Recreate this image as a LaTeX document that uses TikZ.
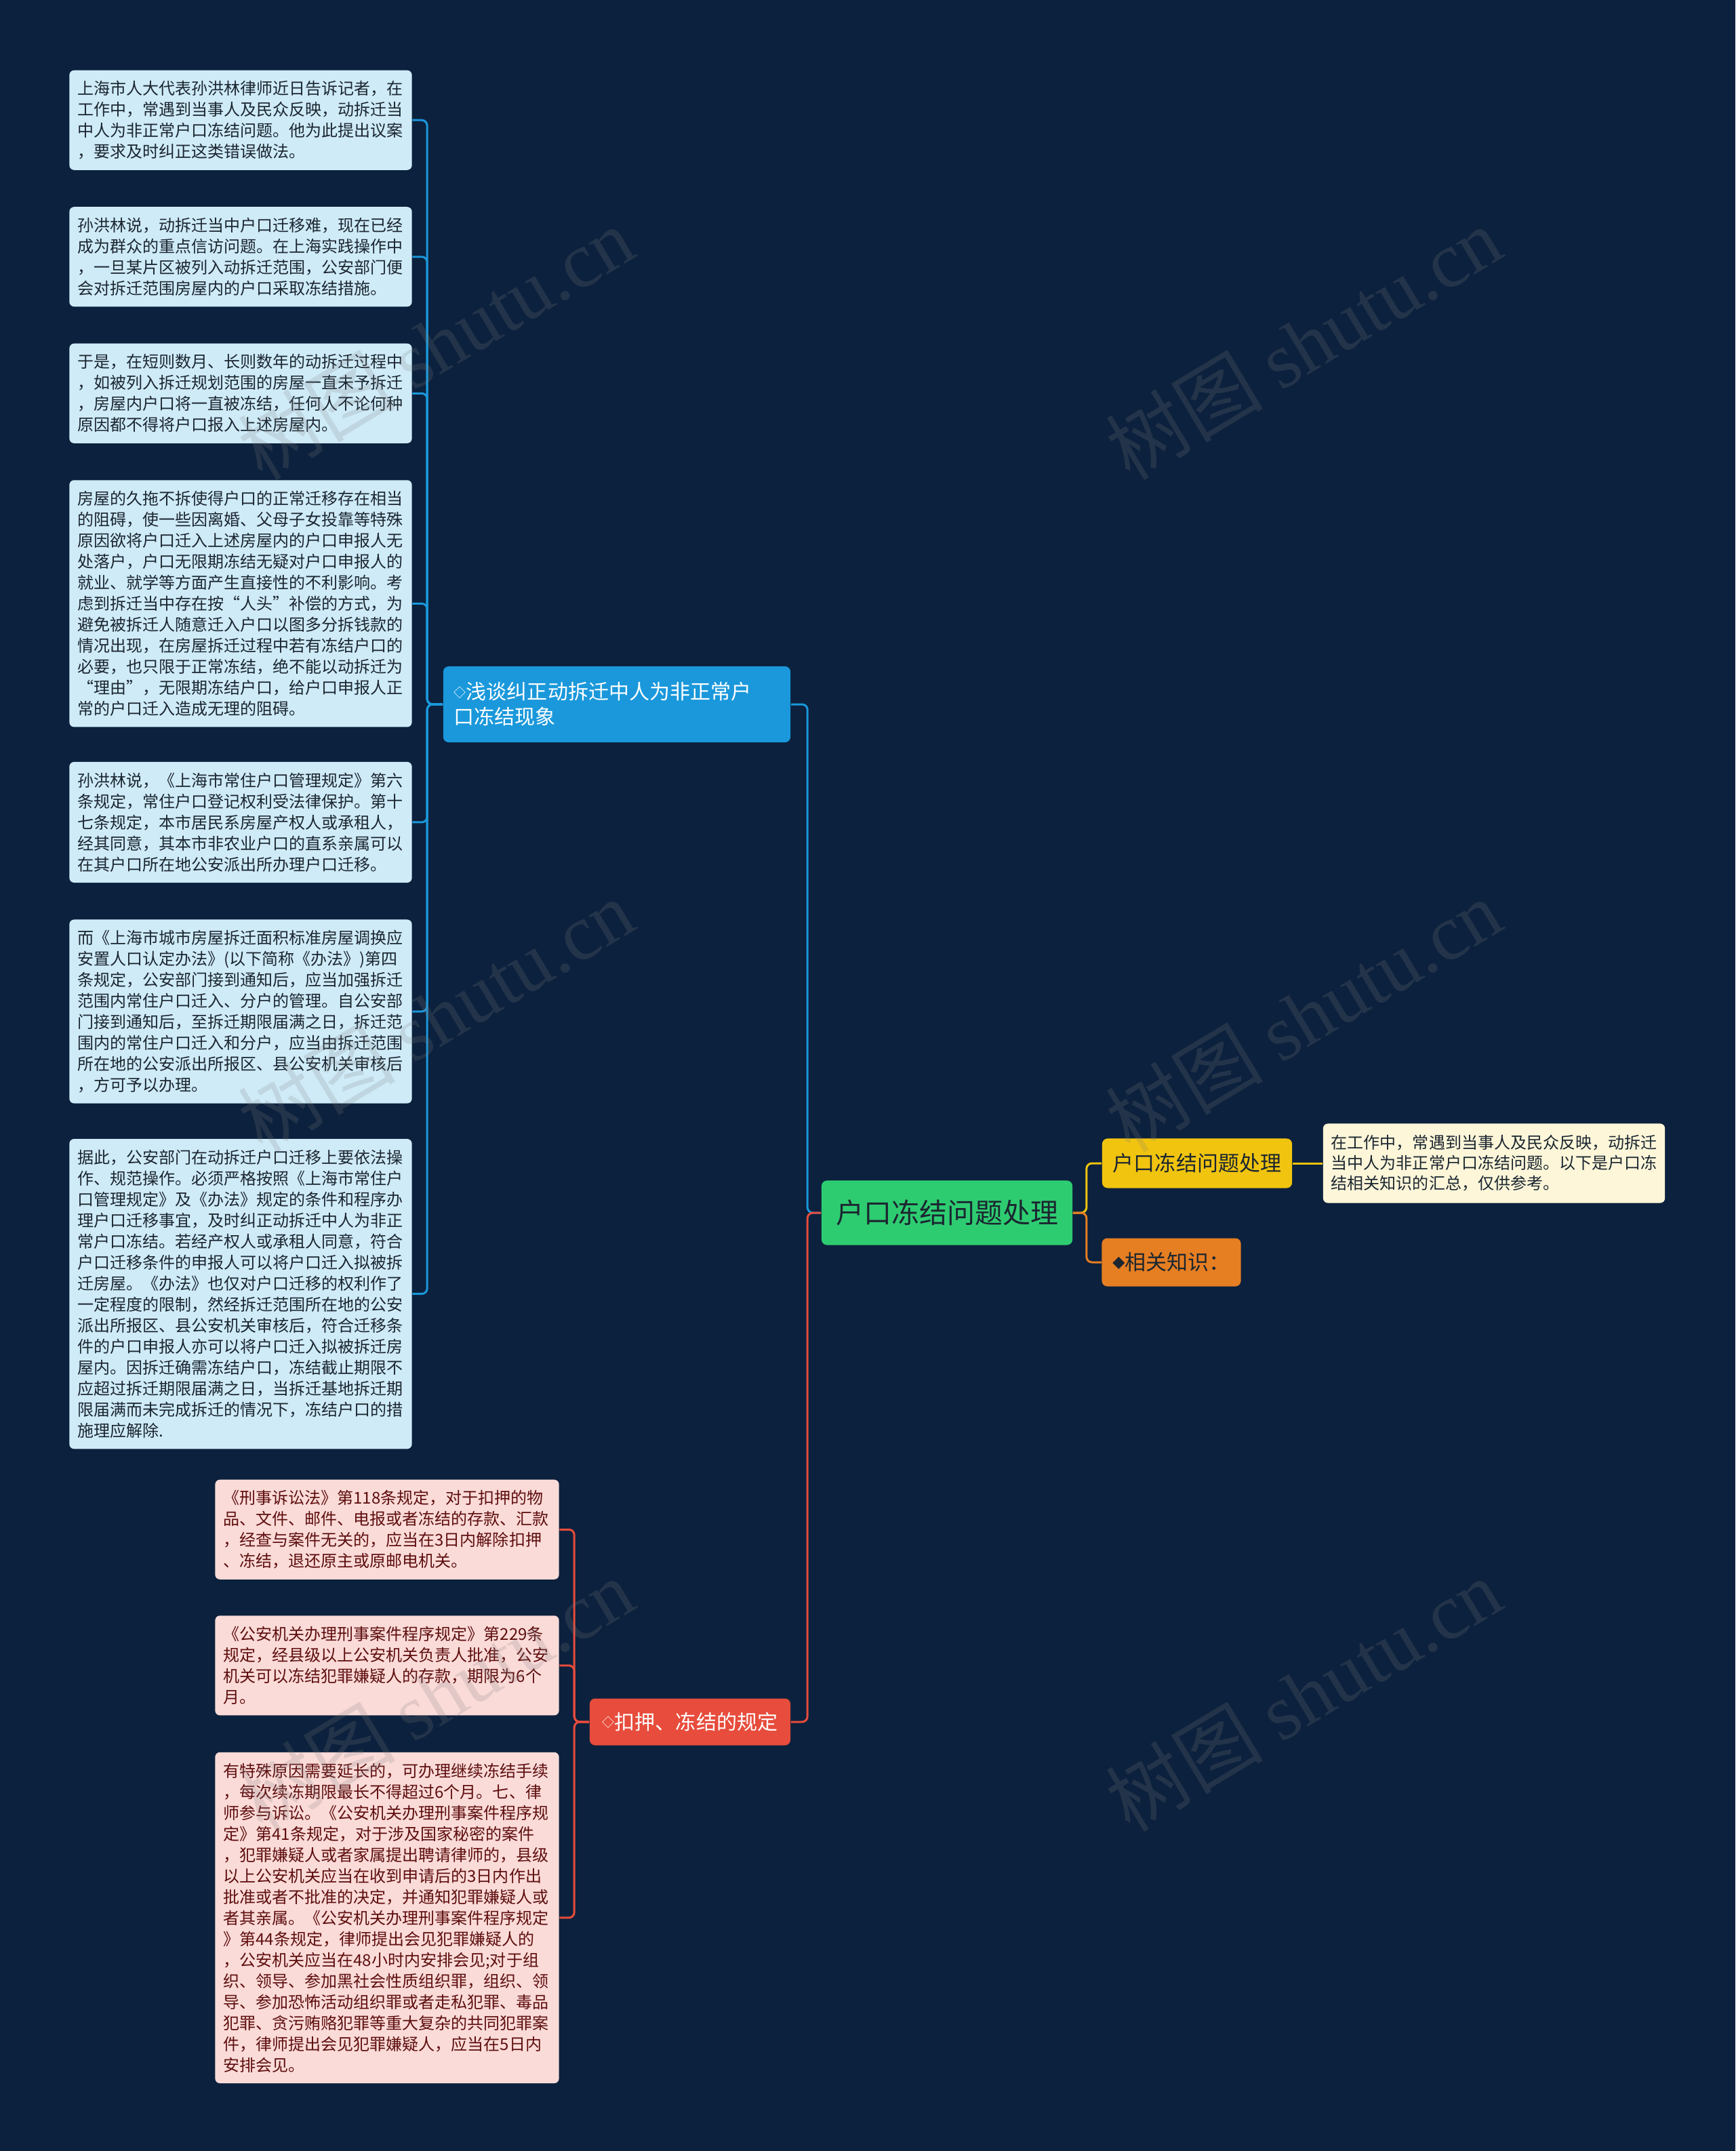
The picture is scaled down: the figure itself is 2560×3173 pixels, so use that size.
\documentclass[tikz,border=0pt]{standalone}
\usepackage{fontspec}
\usepackage{graphicx}
\newfontfamily\cjk{Noto Sans CJK SC}
\newfontfamily\wmserif{Liberation Serif}
\usetikzlibrary{positioning}

\definecolor{bgnavy}{HTML}{0C213D}
\definecolor{leafblue}{HTML}{CFEBF8}
\definecolor{branchblue}{HTML}{1A98DB}
\definecolor{leafpink}{HTML}{FADBD8}
\definecolor{branchred}{HTML}{E74C3C}
\definecolor{rootgreen}{HTML}{2ECC71}
\definecolor{topicyellow}{HTML}{F1C40F}
\definecolor{topicorange}{HTML}{E67E22}
\definecolor{notecream}{HTML}{FDF6D9}
\definecolor{inkdark}{HTML}{1B2630}
\definecolor{inkred}{HTML}{5E0E0E}

\newcommand{\smallmark}[1]{\raisebox{0.12em}{\scalebox{0.6}{#1}}}

\tikzset{
  leaf/.style={rectangle, rounded corners=0.07cm, inner xsep=0.12cm, inner ysep=0pt,
    align=left, font=\cjk\fontsize{6.83pt}{8.82pt}\selectfont},
  nlines/.style={minimum height={#1*0.31cm+0.23cm}},
  blueleaf/.style={leaf, fill=leafblue, text=inkdark, text width=4.81cm, minimum width=5.05cm},
  pinkleaf/.style={leaf, fill=leafpink, text=inkred, text width=4.83cm, minimum width=5.07cm},
  branchbox/.style={rectangle, rounded corners=0.08cm, text=white, inner sep=0pt,
    font=\cjk\fontsize{8.54pt}{10.53pt}\selectfont},
  topicbox/.style={rectangle, rounded corners=0.08cm, text=inkdark, inner sep=0pt,
    font=\cjk\fontsize{8.82pt}{8.82pt}\selectfont},
  link/.style={line width=0.03cm, rounded corners=0.08cm},
  wmark/.style={rotate=31, text=gray, opacity=0.2, font=\cjk\fontsize{33pt}{33pt}\selectfont}
}

\begin{document}
\begin{tikzpicture}[x=0.01cm, y=-0.01cm, node distance=0.53cm]
\useasboundingbox (0,0) rectangle (2560,3173);
\fill[bgnavy] (0,0) rectangle (2560,3173);

\node[rectangle, rounded corners=0.08cm, fill=rootgreen, text=inkdark, inner sep=0pt,
  minimum width=3.70cm, minimum height=0.95cm, font=\cjk\fontsize{11.66pt}{11.66pt}\selectfont]
  (root) at (1397,1789) {户口冻结问题处理};

\node[branchbox, fill=branchblue, align=left, text width=4.80cm, minimum width=5.12cm, minimum height=1.12cm]
  (qiantan) at (910,1039) {\smallmark{◇}浅谈纠正动拆迁中人为非正常户\\口冻结现象};
\node[branchbox, fill=branchred, minimum width=2.96cm, minimum height=0.69cm]
  (kouya) at (1018,2540) {\smallmark{◇}扣押、冻结的规定};
\node[topicbox, fill=topicyellow, minimum width=2.80cm, minimum height=0.73cm]
  (hukou) at (1766,1716) {户口冻结问题处理};
\node[topicbox, fill=topicorange, minimum width=2.05cm, minimum height=0.71cm]
  (zhishi) at (1728,1862) {\smallmark{◆}相关知识：};
\node[leaf, fill=notecream, text=inkdark, text width=4.80cm, minimum width=5.04cm, minimum height=1.17cm,
  font=\cjk\fontsize{6.83pt}{8.54pt}\selectfont]
  (note) at (2204,1716) {在工作中，常遇到当事人及民众反映，动拆迁\\当中人为非正常户口冻结问题。以下是户口冻\\结相关知识的汇总，仅供参考。};

\node[blueleaf, nlines=4, anchor=north] (b1) at (355,103)
  {上海市人大代表孙洪林律师近日告诉记者，在\\工作中，常遇到当事人及民众反映，动拆迁当\\中人为非正常户口冻结问题。他为此提出议案\\，要求及时纠正这类错误做法。};
\node[blueleaf, nlines=4, below=of b1] (b2)
  {孙洪林说，动拆迁当中户口迁移难，现在已经\\成为群众的重点信访问题。在上海实践操作中\\，一旦某片区被列入动拆迁范围，公安部门便\\会对拆迁范围房屋内的户口采取冻结措施。};
\node[blueleaf, nlines=4, below=of b2] (b3)
  {于是，在短则数月、长则数年的动拆迁过程中\\，如被列入拆迁规划范围的房屋一直未予拆迁\\，房屋内户口将一直被冻结，任何人不论何种\\原因都不得将户口报入上述房屋内。};
\node[blueleaf, nlines=11, below=of b3] (b4)
  {房屋的久拖不拆使得户口的正常迁移存在相当\\的阻碍，使一些因离婚、父母子女投靠等特殊\\原因欲将户口迁入上述房屋内的户口申报人无\\处落户，户口无限期冻结无疑对户口申报人的\\就业、就学等方面产生直接性的不利影响。考\\虑到拆迁当中存在按“人头”补偿的方式，为\\避免被拆迁人随意迁入户口以图多分拆钱款的\\情况出现，在房屋拆迁过程中若有冻结户口的\\必要，也只限于正常冻结，绝不能以动拆迁为\\“理由”，无限期冻结户口，给户口申报人正\\常的户口迁入造成无理的阻碍。};
\node[blueleaf, nlines=5, below=0.5cm of b4] (b5)
  {孙洪林说，《上海市常住户口管理规定》第六\\条规定，常住户口登记权利受法律保护。第十\\七条规定，本市居民系房屋产权人或承租人，\\经其同意，其本市非农业户口的直系亲属可以\\在其户口所在地公安派出所办理户口迁移。};
\node[blueleaf, nlines=8, below=of b5] (b6)
  {而《上海市城市房屋拆迁面积标准房屋调换应\\安置人口认定办法》(以下简称《办法》)第四\\条规定，公安部门接到通知后，应当加强拆迁\\范围内常住户口迁入、分户的管理。自公安部\\门接到通知后，至拆迁期限届满之日，拆迁范\\围内的常住户口迁入和分户，应当由拆迁范围\\所在地的公安派出所报区、县公安机关审核后\\，方可予以办理。};
\node[blueleaf, nlines=14, below=0.51cm of b6] (b7)
  {据此，公安部门在动拆迁户口迁移上要依法操\\作、规范操作。必须严格按照《上海市常住户\\口管理规定》及《办法》规定的条件和程序办\\理户口迁移事宜，及时纠正动拆迁中人为非正\\常户口冻结。若经产权人或承租人同意，符合\\户口迁移条件的申报人可以将户口迁入拟被拆\\迁房屋。《办法》也仅对户口迁移的权利作了\\一定程度的限制，然经拆迁范围所在地的公安\\派出所报区、县公安机关审核后，符合迁移条\\件的户口申报人亦可以将户口迁入拟被拆迁房\\屋内。因拆迁确需冻结户口，冻结截止期限不\\应超过拆迁期限届满之日，当拆迁基地拆迁期\\限届满而未完成拆迁的情况下，冻结户口的措\\施理应解除.};

\node[pinkleaf, nlines=4, anchor=north] (p1) at (571,2182)
  {《刑事诉讼法》第118条规定，对于扣押的物\\品、文件、邮件、电报或者冻结的存款、汇款\\，经查与案件无关的，应当在3日内解除扣押\\、冻结，退还原主或原邮电机关。};
\node[pinkleaf, nlines=4, below=0.52cm of p1] (p2)
  {《公安机关办理刑事案件程序规定》第229条\\规定，经县级以上公安机关负责人批准，公安\\机关可以冻结犯罪嫌疑人的存款，期限为6个\\月。};
\node[pinkleaf, nlines=15, below=of p2] (p3)
  {有特殊原因需要延长的，可办理继续冻结手续\\，每次续冻期限最长不得超过6个月。七、律\\师参与诉讼。《公安机关办理刑事案件程序规\\定》第41条规定，对于涉及国家秘密的案件\\，犯罪嫌疑人或者家属提出聘请律师的，县级\\以上公安机关应当在收到申请后的3日内作出\\批准或者不批准的决定，并通知犯罪嫌疑人或\\者其亲属。《公安机关办理刑事案件程序规定\\》第44条规定，律师提出会见犯罪嫌疑人的\\，公安机关应当在48小时内安排会见;对于组\\织、领导、参加黑社会性质组织罪，组织、领\\导、参加恐怖活动组织罪或者走私犯罪、毒品\\犯罪、贪污贿赂犯罪等重大复杂的共同犯罪案\\件，律师提出会见犯罪嫌疑人，应当在5日内\\安排会见。};

\draw[link, branchblue] (root.west) -- ++(-20,0) |- (qiantan.east);
\draw[link, branchred] (root.west) -- ++(-20,0) |- (kouya.east);
\draw[link, topicyellow] (root.east) -- ++(20,0) |- (hukou.west);
\draw[link, topicorange] (root.east) -- ++(20,0) |- (zhishi.west);
\draw[link, topicyellow] (hukou.east) -- (note.west);
\foreach \leaf in {b1,b2,b3,b4,b5,b6,b7}
  \draw[link, branchblue] (qiantan.west) -- ++(-23,0) |- (\leaf.east);
\foreach \leaf in {p1,p2,p3}
  \draw[link, branchred] (kouya.west) -- ++(-22,0) |- (\leaf.east);

\node[wmark] (wm1) at (643,506) {树图 {\wmserif shutu.cn}};
\node[wmark] (wm2) at (1923,506) {树图 {\wmserif shutu.cn}};
\node[wmark] (wm3) at (643,1498) {树图 {\wmserif shutu.cn}};
\node[wmark] (wm4) at (1923,1498) {树图 {\wmserif shutu.cn}};
\node[wmark] (wm5) at (643,2500) {树图 {\wmserif shutu.cn}};
\node[wmark] (wm6) at (1923,2500) {树图 {\wmserif shutu.cn}};
\end{tikzpicture}
\end{document}
